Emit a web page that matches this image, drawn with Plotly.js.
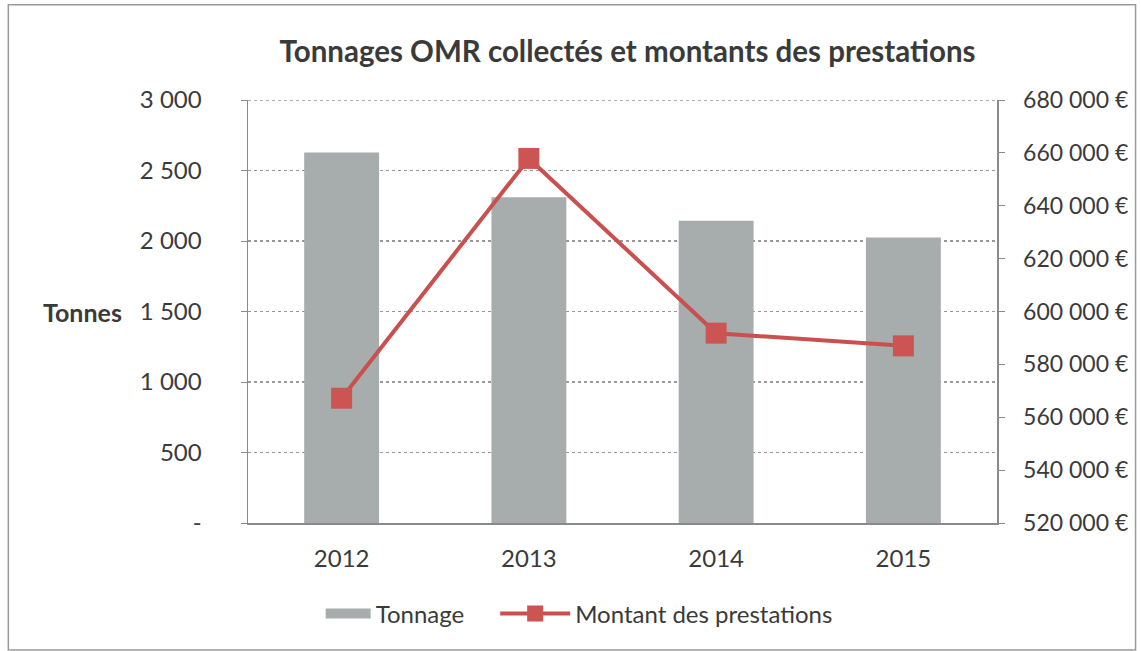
<!DOCTYPE html>
<html>
<head>
<meta charset="utf-8">
<script src="https://cdn.plot.ly/plotly-3.0.1.min.js"></script>
<style>html,body{margin:0;padding:0;background:#fff;}#chart{width:1141px;height:651px;}</style>
</head>
<body>
<div id="chart"></div>
<script>
const years = ["2012", "2013", "2014", "2015"];
const tonnage = [2628, 2310, 2144, 2025];
const montant = [567200, 657900, 591800, 587000];
const leftTickVals = [0, 500, 1000, 1500, 2000, 2500, 3000];
const leftTickText = ["-", "500", "1 000", "1 500", "2 000", "2 500", "3 000"];
const rightTickVals = [520000, 540000, 560000, 580000, 600000, 620000, 640000, 660000, 680000];
const rightTickText = ["520 000 €", "540 000 €", "560 000 €", "580 000 €", "600 000 €", "620 000 €", "640 000 €", "660 000 €", "680 000 €"];

const FONT = "Lato, Open Sans, sans-serif";
const axisColor = "#8a8a8a";
const textColor = "#3a3a3a";
const barColor = "#a7adad";
const topTick = leftTickVals[leftTickVals.length - 1];

const traces = [
  {
    type: "scatter", mode: "lines", name: "Tonnage", x: [null], y: [null],
    line: {color: barColor, width: 18}, showlegend: true, hoverinfo: "skip", legend: "legend"
  },
  {
    type: "bar", name: "Tonnage", x: years, y: tonnage,
    marker: {color: barColor}, yaxis: "y", showlegend: false
  },
  {
    type: "scatter", mode: "lines+markers", name: "Montant des prestations",
    x: years, y: montant, yaxis: "y2", legend: "legend2",
    line: {color: "#c9504e", width: 4},
    marker: {symbol: "square", size: 21, color: "#cc5553", line: {width: 0}}
  }
];

const legendFont = {family: FONT, size: 24, color: textColor};

const layout = {
  width: 1141, height: 651,
  margin: {l: 248, r: 144, t: 100, b: 128},
  paper_bgcolor: "#ffffff", plot_bgcolor: "#ffffff",
  font: {family: FONT, size: 24, color: textColor},
  title: {text: "<b>Tonnages OMR collectés et montants des prestations</b>",
          font: {family: FONT, size: 29.5, color: textColor}, x: 0.55, xanchor: "center", y: 0.92, yanchor: "middle"},
  bargap: 0.6,
  showlegend: true,
  legend: {orientation: "h", x: 0.097, xanchor: "left", y: -0.215, yanchor: "middle",
           font: legendFont, itemwidth: 45, bgcolor: "rgba(0,0,0,0)"},
  legend2: {orientation: "h", x: 0.33, xanchor: "left", y: -0.215, yanchor: "middle",
           font: legendFont, itemwidth: 70, bgcolor: "rgba(0,0,0,0)"},
  xaxis: {
    type: "category", showline: true, linecolor: axisColor, linewidth: 1.5,
    ticks: "", showgrid: false, tickfont: {size: 24, color: textColor}, ticklabelstandoff: 14
  },
  yaxis: {
    range: [0, 3000], tickvals: leftTickVals, ticktext: leftTickText,
    showline: true, linecolor: axisColor, linewidth: 1.5,
    ticks: "outside", ticklen: 6, tickcolor: axisColor,
    showgrid: true, gridcolor: "#999999", griddash: "dot", gridwidth: 1.3,
    zeroline: false, tickfont: {size: 24, color: textColor}, ticklabelstandoff: 34
  },
  yaxis2: {
    overlaying: "y", side: "right", range: [520000, 680000],
    tickvals: rightTickVals, ticktext: rightTickText,
    showline: true, linecolor: axisColor, linewidth: 1.5,
    ticks: "outside", ticklen: 6, tickcolor: axisColor,
    showgrid: false, zeroline: false, tickfont: {size: 23, color: textColor}, ticklabelstandoff: 14
  },
  annotations: [
    {text: "<b>Tonnes</b>", xref: "paper", yref: "paper", x: -0.165, y: 0.5, xanchor: "right", yanchor: "middle",
     showarrow: false, font: {family: FONT, size: 25, color: textColor}}
  ],
  shapes: [
    {type: "line", xref: "paper", yref: "y", x0: 0, x1: 1, y0: topTick, y1: topTick,
     line: {color: "#999999", width: 1.3, dash: "dot"}, layer: "below"},
    {type: "rect", xref: "paper", yref: "paper", x0: -0.32, x1: 1.185, y0: -0.30, y1: 1.225,
     line: {color: "#9a9a9a", width: 1.5}, fillcolor: "rgba(0,0,0,0)", layer: "below"}
  ]
};

Plotly.newPlot("chart", traces, layout, {displayModeBar: false, staticPlot: true});
</script>
</body>
</html>
